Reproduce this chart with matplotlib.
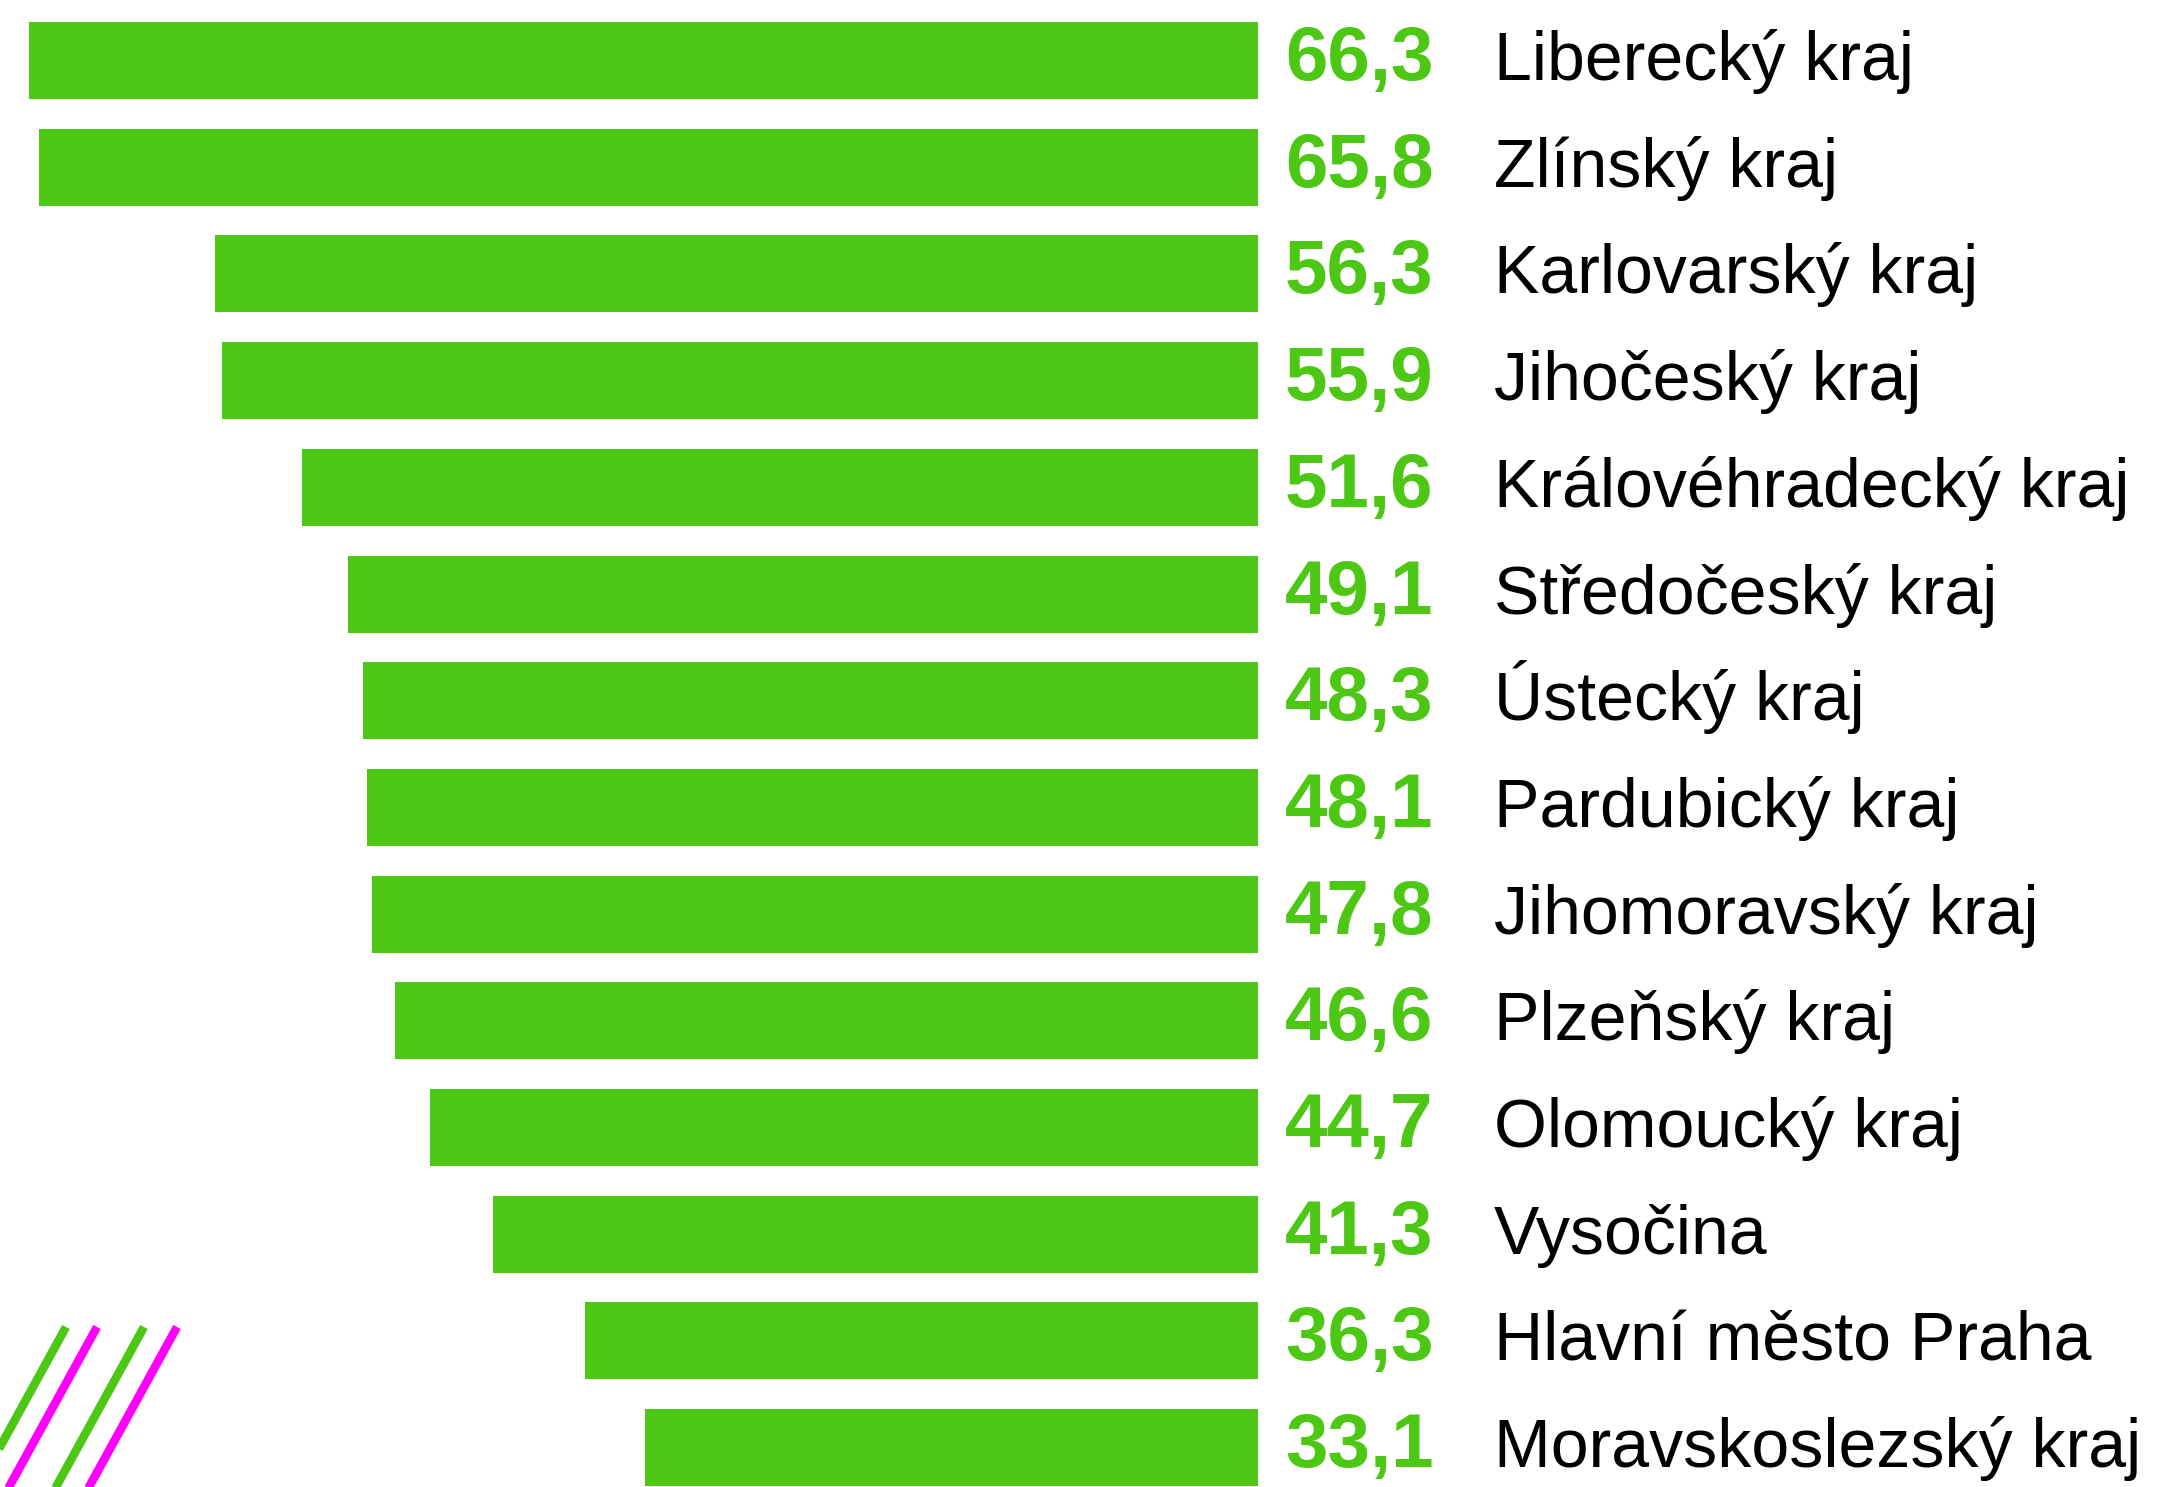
import matplotlib
matplotlib.use("Agg")
import matplotlib.pyplot as plt
from matplotlib.lines import Line2D

regions = ["Liberecký kraj", "Zlínský kraj", "Karlovarský kraj", "Jihočeský kraj",
           "Královéhradecký kraj", "Středočeský kraj", "Ústecký kraj", "Pardubický kraj",
           "Jihomoravský kraj", "Plzeňský kraj", "Olomoucký kraj", "Vysočina",
           "Hlavní město Praha", "Moravskoslezský kraj"]
values = [66.3, 65.8, 56.3, 55.9, 51.6, 49.1, 48.3, 48.1, 47.8, 46.6, 44.7, 41.3, 36.3, 33.1]
value_labels = ["66,3", "65,8", "56,3", "55,9", "51,6", "49,1", "48,3", "48,1",
                "47,8", "46,6", "44,7", "41,3", "36,3", "33,1"]

GREEN = "#4CC714"
MAGENTA = "#FF00FF"

W, H, DPI = 2157, 1487, 100
fig = plt.figure(figsize=(W / DPI, H / DPI), dpi=DPI)
fig.patch.set_facecolor("white")
ax = fig.add_axes([0, 0, 1, 1])
ax.set_axis_off()

x0_px = 1258.0
scale = 18.53  # px per unit
pitch = 106.7
c0 = 60.5

ax.set_xlim(x0_px / scale, -(W - x0_px) / scale)  # inverted: bars extend to the left
ax.set_ylim((H - c0) / pitch, -c0 / pitch)

ypos = list(range(len(values)))
ax.barh(ypos, values, height=77 / pitch, color=GREEN, edgecolor="none")

pt = 72.0 / DPI
for y, lab, reg in zip(ypos, value_labels, regions):
    ax.annotate(lab, xy=(0, y), xytext=(27 * pt, -19.5 * pt), textcoords="offset points",
                ha="left", va="baseline", fontsize=55, fontweight="bold",
                color=GREEN, family="Liberation Sans")
    ax.annotate(reg, xy=(0, y), xytext=(236 * pt, -19.5 * pt), textcoords="offset points",
                ha="left", va="baseline", fontsize=49, color="black",
                family="Liberation Sans")

# decorative diagonal strokes, bottom-left corner
strokes = [(66, GREEN), (97, MAGENTA), (144, GREEN), (177, MAGENTA)]
for xt, col in strokes:
    yt, yb = 1327, 1527
    xb = xt - 0.55 * (yb - yt)
    fig.add_artist(Line2D([xt / W, xb / W], [1 - yt / H, 1 - yb / H],
                          transform=fig.transFigure, color=col, linewidth=6.2,
                          solid_capstyle="butt"))

fig.savefig("out.png", dpi=DPI, facecolor="white")
